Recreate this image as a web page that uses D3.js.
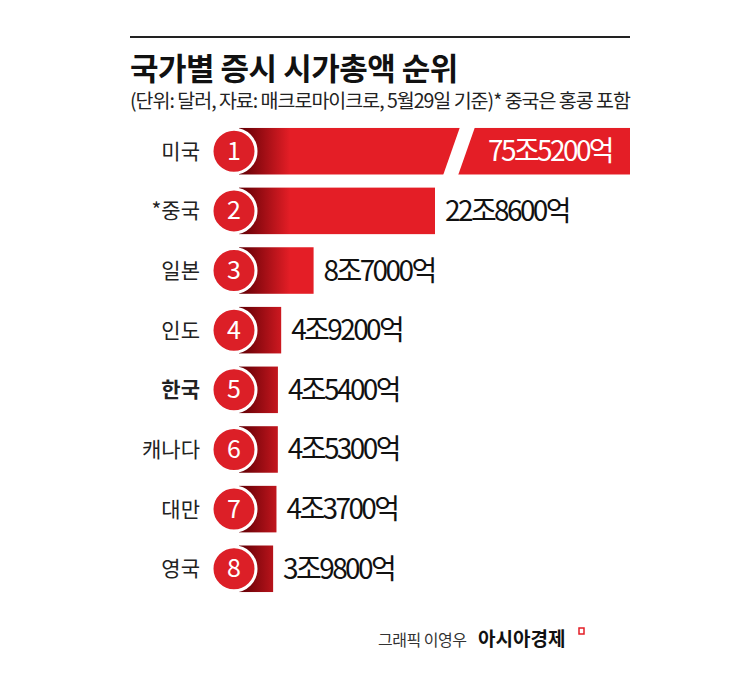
<!DOCTYPE html>
<html><head><meta charset="utf-8">
<script src="https://cdn.jsdelivr.net/npm/d3@7"></script>
<style>body{margin:0;background:#fff}text{font-family:"Noto Sans CJK KR","Noto Sans",sans-serif}</style>
</head><body><svg id="c" width="745" height="682"></svg>
<script>
const countries = ["미국", "*중국", "일본", "인도", "한국", "캐나다", "대만", "영국"];
const values = [75.52, 22.86, 8.70, 4.92, 4.54, 4.53, 4.37, 3.98];
const labels = ["75조5200억", "22조8600억", "8조7000억", "4조9200억", "4조5400억", "4조5300억", "4조3700억", "3조9800억"];

const svg = d3.select("#c");
const x = d3.scaleLinear().domain([0, 22.86]).range([239, 435]);
const y = d3.scaleBand().domain(countries).range([122, 598]).paddingInner(0.22).paddingOuter(0.1);
const maxX = 630;

const defs = svg.append("defs");
const gs = defs.append("linearGradient").attr("id", "gradS").attr("gradientUnits", "userSpaceOnUse")
  .attr("x1", 245).attr("x2", 290);
gs.append("stop").attr("offset", 0).attr("stop-color", "#6e0208");
gs.append("stop").attr("offset", 1).attr("stop-color", "#e41e26");

svg.append("line").attr("x1", 130).attr("x2", 630).attr("y1", 37).attr("y2", 37).attr("stroke", "#222").attr("stroke-width", 2);
svg.append("text").attr("x", 130).attr("y", 80).attr("font-size", 31).attr("font-weight", 700).attr("fill", "#111").attr("letter-spacing", -0.5).text("국가별 증시 시가총액 순위");
svg.append("text").attr("x", 130).attr("y", 108).attr("font-size", 19.5).attr("fill", "#222").attr("letter-spacing", -1)
  .text("(단위: 달러, 자료: 매크로마이크로, 5월29일 기준)* 중국은 홍콩 포함");

const rows = svg.selectAll("g.row").data(countries).join("g").attr("class", "row");
const bh = y.bandwidth();

rows.append("rect")
  .attr("x", x(0)).attr("y", d => y(d))
  .attr("width", (d, i) => Math.min(x(values[i]), maxX) - x(0))
  .attr("height", bh)
  .attr("fill", "url(#gradS)");

// break in first bar
const y0 = y(countries[0]);
svg.append("polygon")
  .attr("points", `${443},${y0 + bh + 1} ${458},${y0 + bh + 1} ${475},${y0 - 1} ${460},${y0 - 1}`)
  .attr("fill", "#fff");

rows.append("circle")
  .attr("cx", 234).attr("cy", d => y(d) + bh / 2).attr("r", 22)
  .attr("fill", "#dc1f27").attr("stroke", "#fff").attr("stroke-width", 3);
rows.append("text")
  .attr("x", 234).attr("y", d => y(d) + bh / 2 + 8.5).attr("text-anchor", "middle")
  .attr("font-size", 25).attr("fill", "#fff").text((d, i) => i + 1);

rows.append("text")
  .attr("x", 200).attr("y", d => y(d) + bh / 2 + 7.5).attr("text-anchor", "end")
  .attr("font-size", 21).attr("fill", "#222").attr("font-weight", d => d === "한국" ? 700 : 400)
  .text(d => d);

rows.append("text")
  .attr("x", (d, i) => i === 0 ? 612 : x(values[i]) + 10)
  .attr("text-anchor", (d, i) => i === 0 ? "end" : "start")
  .attr("y", d => y(d) + bh / 2 + 10)
  .attr("font-size", 28).attr("letter-spacing", -2.6)
  .attr("fill", (d, i) => i === 0 ? "#fff" : "#111")
  .text((d, i) => labels[i]);

svg.append("text").attr("x", 378).attr("y", 646).attr("font-size", 16).attr("fill", "#333").attr("letter-spacing", -0.5).text("그래픽 이영우");
svg.append("text").attr("x", 478).attr("y", 646).attr("font-size", 19).attr("font-weight", 700).attr("fill", "#111").text("아시아경제");
svg.append("rect").attr("x", 579).attr("y", 628).attr("width", 5).attr("height", 6).attr("fill", "none").attr("stroke", "#e41e26").attr("stroke-width", 1.5);
</script></body></html>
